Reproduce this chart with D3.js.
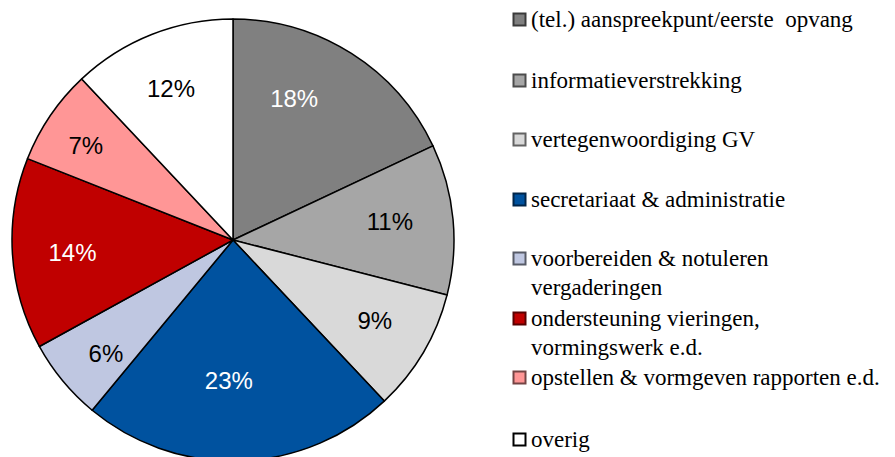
<!DOCTYPE html>
<html>
<head>
<meta charset="utf-8">
<script src="https://cdn.jsdelivr.net/npm/d3@7"></script>
<style>
  body { margin: 0; background: #fff; }
  svg { display: block; }
</style>
</head>
<body>
<div id="chart"></div>
<script>
// Categorieën en waarden (in procenten)
const categories = [
    "(tel.) aanspreekpunt/eerste  opvang",
    "informatieverstrekking",
    "vertegenwoordiging GV",
    "secretariaat & administratie",
    "voorbereiden & notuleren vergaderingen",
    "ondersteuning vieringen, vormingswerk e.d.",
    "opstellen & vormgeven rapporten e.d.",
    "overig"
];
const values = [18, 11, 9, 23, 6, 14, 7, 12];
// Legendaregels (afgebroken zoals in het origineel)
const legendLines = [
    ["(tel.) aanspreekpunt/eerste\u00a0\u00a0opvang"],
    ["informatieverstrekking"],
    ["vertegenwoordiging GV"],
    ["secretariaat & administratie"],
    ["voorbereiden & notuleren", "vergaderingen"],
    ["ondersteuning vieringen,", "vormingswerk e.d."],
    ["opstellen & vormgeven rapporten e.d."],
    ["overig"]
];
const colors = ["#808080", "#a6a6a6", "#d9d9d9", "#00529f", "#bfc7e1", "#c00000", "#ff9696", "#ffffff"];
const labelColors = ["#fff", "#000", "#000", "#fff", "#000", "#fff", "#000", "#000"];

const width = 895, height = 457;
const cx = 233, cy = 240, radius = 221;

const svg = d3.select("#chart").append("svg")
    .attr("width", width)
    .attr("height", height);

const pie = d3.pie().sort(null).value(d => d);
const arcs = pie(values);

const arc = d3.arc().innerRadius(0).outerRadius(radius);

const g = svg.append("g").attr("transform", `translate(${cx},${cy})`);

g.selectAll("path.slice")
    .data(arcs)
    .enter().append("path")
    .attr("class", "slice")
    .attr("d", arc)
    .attr("fill", (d, i) => colors[i])
    .attr("stroke", "#000")
    .attr("stroke-width", 1.5)
    .attr("stroke-linejoin", "round");

// Labels: op het midden van de sector, met kleine correcties zoals Excel ze plaatst
const labelR = d3.scaleOrdinal().domain(d3.range(8)).range([154, 158, 163, 140, 170, 161, 175, 164]);
const labelShift = [-9, -1.5, -1, 3.5, -2, -0.7, -1.5, -0.6]; // graden
g.selectAll("text.lbl")
    .data(arcs)
    .enter().append("text")
    .attr("class", "lbl")
    .attr("transform", (d, i) => {
        const a = (d.startAngle + d.endAngle) / 2 + labelShift[i] * Math.PI / 180;
        const r = labelR(i);
        return `translate(${r * Math.sin(a)},${-r * Math.cos(a)})`;
    })
    .attr("dy", "0.36em")
    .attr("text-anchor", "middle")
    .style("font-family", "'Liberation Sans', Arial, sans-serif")
    .style("font-size", "24px")
    .attr("fill", (d, i) => labelColors[i])
    .text(d => d.value + "%");

// Legenda
const legendY = [20, 81, 140, 200, 259, 319, 378, 440];
const legend = svg.append("g").attr("class", "legend");
const item = legend.selectAll("g.item")
    .data(categories)
    .enter().append("g")
    .attr("class", "item")
    .attr("transform", (d, i) => `translate(513,${legendY[i]})`);

item.append("rect")
    .attr("x", 0.5)
    .attr("y", -6.5)
    .attr("width", 12)
    .attr("height", 12)
    .attr("fill", (d, i) => colors[i])
    .attr("stroke", (d, i) => i === 7 ? "#000" : d3.color(colors[i]).darker(2.2))
    .attr("stroke-width", 2);

item.append("text")
    .attr("x", 18)
    .attr("y", 7)
    .style("font-family", "'Liberation Serif', 'DejaVu Serif', serif")
    .style("font-size", "23px")
    .attr("fill", "#000")
    .selectAll("tspan")
    .data((d, i) => legendLines[i])
    .enter().append("tspan")
    .attr("x", 18)
    .attr("dy", (d, j) => j === 0 ? 0 : 29)
    .text(d => d);
</script>
</body>
</html>
